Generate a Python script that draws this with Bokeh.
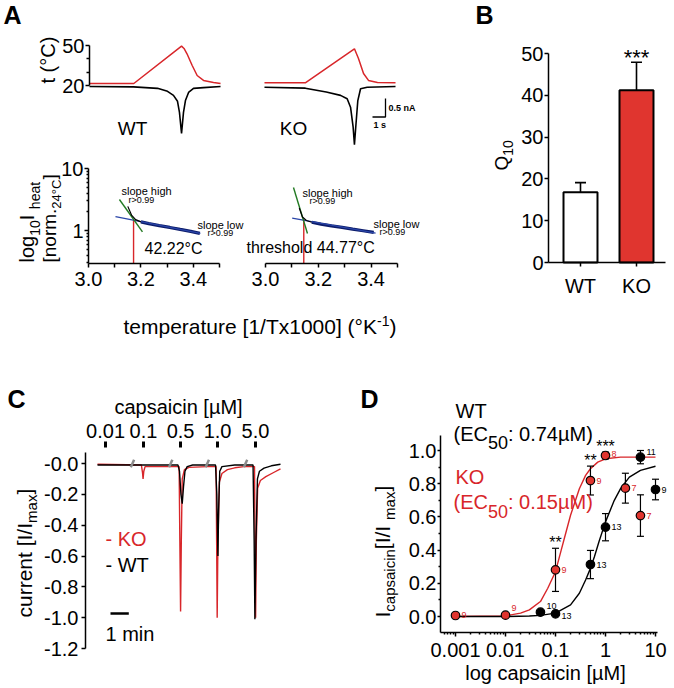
import math
from bokeh.plotting import figure
from bokeh.models import (Range1d, LinearAxis, LogAxis, LogScale, FixedTicker, Label,
                          CustomJSTickFormatter)
from bokeh.embed import file_html
from bokeh.resources import INLINE
from bokeh.core.properties import value

# ============================ DATA ============================
# --- Panel A (top): example heat-ramp recordings: time (s), temperature (degC), current (nA)
wt_temp_t = [0.0, 3.41, 7.08, 7.27, 7.50, 7.90, 8.28, 8.77, 9.54, 10.08]
wt_temp = [21.5, 21.5, 49.5, 47.8, 43.8, 35.0, 27.5, 23.8, 22.3, 21.5]
wt_cur_t = [0.0, 3.38, 5.23, 6.00, 6.46, 6.77, 6.92, 7.08, 7.23, 7.38, 7.62, 8.00, 8.77, 10.08]
wt_cur = [0.0, -0.01, -0.05, -0.13, -0.24, -0.40, -0.70, -1.27, -0.70, -0.38, -0.16, -0.05, -0.03, 0.0]
ko_temp_t = [13.46, 16.60, 20.38, 20.69, 21.08, 21.46, 22.15, 23.54]
ko_temp = [22.0, 22.0, 47.5, 40.3, 29.0, 23.8, 22.3, 22.0]
ko_cur_t = [13.46, 16.60, 18.21, 19.31, 19.82, 20.08, 20.28, 20.38, 20.48, 20.64, 20.85, 21.36, 23.54]
ko_cur = [-0.02, -0.045, -0.15, -0.24, -0.33, -0.56, -1.10, -1.57, -1.10, -0.38, -0.06, -0.02, 0.0]

# --- Panel A (bottom): Arrhenius plots, x = 1/T x 1000, y = normalised I_heat (log)
arr_wt_steep_x = [3.150, 3.165, 3.180, 3.200]
arr_wt_steep_y = [2.45, 1.75, 1.50, 1.38]
arr_wt_flat_x = [3.200, 3.230, 3.270, 3.310, 3.350, 3.390, 3.425]
arr_wt_flat_y = [1.38, 1.29, 1.20, 1.12, 1.04, 0.97, 0.90]
arr_wt_high_x = [3.118, 3.206]
arr_wt_high_y = [3.16, 0.95]
arr_wt_low_x = [3.103, 3.427]
arr_wt_low_y = [1.68, 0.895]
arr_wt_thr_x = 3.172
arr_wt_thr_y = 1.50
arr_ko_steep_x = [3.128, 3.140, 3.155, 3.175]
arr_ko_steep_y = [2.30, 1.65, 1.45, 1.36]
arr_ko_flat_x = [3.175, 3.210, 3.250, 3.290, 3.330, 3.370, 3.410]
arr_ko_flat_y = [1.36, 1.27, 1.19, 1.12, 1.05, 0.99, 0.93]
arr_ko_high_x = [3.106, 3.159]
arr_ko_high_y = [4.94, 0.895]
arr_ko_low_x = [3.101, 3.417]
arr_ko_low_y = [1.58, 0.905]
arr_ko_thr_x = 3.145
arr_ko_thr_y = 1.49
arr_ymin = 0.294

# --- Panel B: Q10
genotypes = ["WT", "KO"]
q10_mean = [16.8, 41.2]
q10_sem = [2.3, 6.7]

# --- Panel C: capsaicin applications, time (min), normalised current
cap_conc_labels = ["0.01", "0.1", "0.5", "1.0", "5.0"]
cap_app_t = [0.44, 2.51, 4.54, 6.56, 8.63]
cap_break_t = [1.91, 4.00, 6.00, 8.09]
c_wt_t = [0.0, 2.45, 4.40, 4.48, 4.56, 4.63, 4.70, 4.78, 4.90, 5.20, 6.45, 6.52, 6.58, 6.62,
          6.68, 6.80, 7.50, 8.50, 8.56, 8.60, 8.66, 8.74, 8.85, 9.10, 9.50, 10.0]
c_wt_i = [-0.01, -0.01, -0.01, -0.05, -0.20, -0.26, -0.15, -0.05, -0.02, -0.01, -0.01, -0.20,
          -0.60, -0.30, -0.05, -0.02, -0.01, -0.01, -0.50, -1.01, -0.50, -0.10, -0.05, -0.03,
          -0.015, -0.005]
c_ko_t = [0.0, 2.40, 2.46, 2.49, 2.53, 2.60, 4.46, 4.50, 4.54, 4.58, 4.63, 4.75, 5.00, 6.00,
          6.48, 6.51, 6.54, 6.58, 6.66, 6.80, 7.10, 7.50, 8.00, 8.58, 8.61, 8.64, 8.68, 8.75,
          8.90, 9.20, 9.60, 10.0]
c_ko_i = [-0.005, -0.01, -0.06, -0.10, -0.05, -0.02, -0.02, -0.50, -0.96, -0.50, -0.10, -0.04,
          -0.025, -0.02, -0.02, -0.50, -1.00, -0.50, -0.12, -0.065, -0.04, -0.028, -0.02, -0.02,
          -0.50, -1.00, -0.50, -0.16, -0.11, -0.085, -0.06, -0.035]

# --- Panel D: dose response
d_wt_x = [0.05, 0.1, 0.5, 1.0, 5.0, 10.0]
d_wt_y = [0.026, 0.016, 0.313, 0.538, 0.96, 0.765]
d_wt_err = [0.0, 0.0, 0.085, 0.082, 0.04, 0.062]
d_wt_n = [10, 13, 13, 13, 11, 9]
d_ko_x = [0.001, 0.01, 0.1, 0.5, 1.0, 2.5, 5.0]
d_ko_y = [0.006, 0.008, 0.281, 0.819, 0.97, 0.773, 0.608]
d_ko_err = [0.0, 0.0, 0.13, 0.087, 0.02, 0.09, 0.125]
d_ko_n = [9, 9, 9, 9, 8, 7, 7]
wt_fit_x = [0.001, 0.01, 0.03, 0.05, 0.1, 0.2, 0.3, 0.4, 0.5, 0.6, 0.74, 1.0, 1.5, 2.0, 3.0, 5.0, 10.0]
wt_fit_y = [0.0, 0.0, 0.003, 0.007, 0.02, 0.07, 0.14, 0.22, 0.29, 0.36, 0.45, 0.57, 0.70, 0.77, 0.84, 0.88, 0.905]
ko_fit_x = [0.001, 0.01, 0.02, 0.03, 0.05, 0.07, 0.1, 0.13, 0.15, 0.2, 0.3, 0.4, 0.5, 0.7, 1.0, 2.0, 5.0, 10.0]
ko_fit_y = [0.0, 0.004, 0.02, 0.04, 0.09, 0.17, 0.27, 0.40, 0.47, 0.61, 0.77, 0.85, 0.89, 0.93, 0.95, 0.96, 0.96, 0.96]
sig_x = [0.1, 0.5, 1.0]
sig_text = ["**", "**", "***"]

# ============================ LAYOUT ============================
W, H, OFF = 674, 688, 0
FONT = "Liberation Sans"
RED = "#d8262a"
KO_FILL = "#e0352f"
GREEN = "#237a23"
BLUE = "#2a45a8"
NAVY = "#0c1c6a"

# pixel anchors (reference image coords) -> data value, per panel range
XMAP = {"at": (89, 0.0, 102, 1.0, False), "al": (88, 3.0, 219, 3.5, False),
        "ar": (265, 3.0, 397, 3.5, False), "b": (580, 1.0, 636, 2.0, False),
        "c": (97, 0.0, 115.3, 1.0, False), "d": (455, 0.001, 655, 10.0, True)}
YMAP = {"atT": (85, 20.0, 45, 50.0, False), "atI": (86, 0.0, 123, -1.0, False),
        "aly": (230, 1.0, 168, 10.0, True), "b": (262, 0.0, 53, 50.0, False),
        "c": (463, 0.0, 648, -1.2, False), "d": (616, 0.0, 450, 1.0, False)}

# screen offsets (px) of the n-labels next to each point in panel D
n_dy_wt = [-6, 2, 0, 0, -5, 0]
n_dy_ko = [-1, -7, 0, 0, -1, 0, 0]


def to_val(m, pix):
    p0, v0, p1, v1, log = m
    if log:
        v0, v1 = math.log10(v0), math.log10(v1)
    v = v0 + (pix - p0) * (v1 - v0) / (p1 - p0)
    return 10 ** v if log else v


def vx(name, pix):
    return to_val(XMAP[name], pix)


def vy(name, pix):
    return to_val(YMAP[name], pix)


p = figure(width=W, height=H, x_range=Range1d(0, W), y_range=Range1d(H, 0),
           x_axis_type=None, y_axis_type=None, toolbar_location=None,
           output_backend="svg", min_border=0, outline_line_color=None)
p.min_border_left = p.min_border_right = p.min_border_top = p.min_border_bottom = 0
p.background_fill_color = "white"
p.border_fill_color = "white"
p.extra_x_ranges = {k: Range1d(vx(k, OFF), vx(k, OFF + W)) for k in XMAP}
p.extra_y_ranges = {k: Range1d(vy(k, OFF + H), vy(k, OFF)) for k in YMAP}
p.extra_x_scales = {"d": LogScale()}
p.extra_y_scales = {"aly": LogScale()}

AW = {' ': 278, '(': 333, ')': 333, '[': 278, ']': 278, '.': 278, ':': 278, '/': 278,
      '°': 400, 'µ': 576, '-': 333, '>': 584, '*': 389,
      'a': 556, 'b': 556, 'c': 500, 'd': 556, 'e': 556, 'f': 278, 'g': 556, 'h': 556,
      'i': 222, 'j': 222, 'k': 500, 'l': 222, 'm': 833, 'n': 556, 'o': 556, 'p': 556,
      'q': 556, 'r': 333, 's': 500, 't': 278, 'u': 556, 'v': 500, 'w': 722, 'x': 500,
      'y': 500, 'z': 500, 'A': 667, 'C': 722, 'D': 722, 'E': 667, 'I': 278, 'K': 667,
      'M': 833, 'O': 778, 'Q': 778, 'T': 611, 'W': 944}
MID = 0.35  # cap-centre height above the baseline, in em


def tw(s, size):
    return sum(AW.get(ch, 556) for ch in s) / 1000.0 * size


def lab(x, y, text, size=20, color="black", align="left", bold=False, angle=0.0):
    """(x, y) is the baseline anchor; Bokeh gets the cap-centre with baseline 'middle'."""
    if angle == 0.0:
        y = y - MID * size
    else:
        x = x - MID * size
    p.add_layout(Label(x=x - OFF, y=y - OFF, text=text, text_font=FONT,
                       text_font_size=f"{size}px", text_color=color, text_align=align,
                       text_baseline="middle", angle=angle,
                       text_font_style="bold" if bold else "normal"))


def runs_h(x, y, runs, color="black"):
    for text, size, dy in runs:
        lab(x, y + dy, text, size, color)
        x += tw(text, size)


def runs_v(x, y, runs, color="black"):
    for text, size, dx in runs:
        lab(x + dx, y, text, size, color, angle=math.pi / 2)
        y -= tw(text, size)


def add_axis(cls, side, xn, yn, loc, bounds, ticks, minor=(), fmt=None, size=20,
             tick_out=4, minor_out=0, standoff=2, lw=1.5, line=True):
    ax = cls(x_range_name=xn, y_range_name=yn, fixed_location=loc,
             ticker=FixedTicker(ticks=list(ticks), minor_ticks=list(minor)))
    if bounds is not None:
        ax.bounds = bounds
    ax.axis_line_width = lw
    ax.axis_line_color = "black" if line else None
    ax.major_tick_line_width = lw
    ax.minor_tick_line_width = lw
    ax.major_tick_out = tick_out
    ax.major_tick_in = 0
    ax.minor_tick_out = minor_out
    ax.minor_tick_in = 0
    ax.major_label_text_font = FONT
    ax.major_label_text_font_size = f"{size}px"
    ax.major_label_text_color = "black"
    ax.major_label_standoff = standoff
    if fmt is not None:
        ax.formatter = fmt
    p.add_layout(ax, side)
    return ax


fmt_str = CustomJSTickFormatter(code="return String(tick);")
fmt_1 = CustomJSTickFormatter(code="return tick.toFixed(1);")

# ============================ PANEL A top ============================
ka_t = dict(x_range_name="at", y_range_name="atT")
ka_i = dict(x_range_name="at", y_range_name="atI")
p.line(wt_temp_t, wt_temp, line_color=RED, line_width=1.5, **ka_t)
p.line(ko_temp_t, ko_temp, line_color=RED, line_width=1.5, **ka_t)
p.line(wt_cur_t, wt_cur, line_color="black", line_width=1.6, **ka_i)
p.line(ko_cur_t, ko_cur, line_color="black", line_width=1.6, **ka_i)
# scale bars: 0.5 nA, 1 s
sb_t = vx("at", 385)
sb_i = vy("atI", 98)
p.line([sb_t - 1.0, sb_t, sb_t], [sb_i - 0.5, sb_i - 0.5, sb_i], line_color="black",
       line_width=1.3, **ka_i)
add_axis(LinearAxis, "left", "at", "atT", 0.0, (20, 50), [20, 50], [30, 40],
         fmt=fmt_str, tick_out=4, minor_out=3, standoff=1)
lab(3, 23, "A", 25, bold=True)
lab(54, 83, "t (°C)", 20, angle=math.pi / 2)
lab(132, 135, "WT", 19, align="center")
lab(293, 135, "KO", 19, align="center")
lab(388, 111, "0.5 nA", 9, bold=True)
lab(373, 128, "1 s", 9, bold=True)

# ============================ PANEL A bottom ============================
for xn, stx, sty, flx, fly, hx, hy, lx, ly, thx, thy in [
        ("al", arr_wt_steep_x, arr_wt_steep_y, arr_wt_flat_x, arr_wt_flat_y, arr_wt_high_x,
         arr_wt_high_y, arr_wt_low_x, arr_wt_low_y, arr_wt_thr_x, arr_wt_thr_y),
        ("ar", arr_ko_steep_x, arr_ko_steep_y, arr_ko_flat_x, arr_ko_flat_y, arr_ko_high_x,
         arr_ko_high_y, arr_ko_low_x, arr_ko_low_y, arr_ko_thr_x, arr_ko_thr_y)]:
    kk = dict(x_range_name=xn, y_range_name="aly")
    p.segment(x0=[thx], y0=[arr_ymin], x1=[thx], y1=[thy], line_color=RED, line_width=1.4, **kk)
    p.line(flx, fly, line_color=NAVY, line_width=3.2, **kk)
    p.line(lx, ly, line_color=BLUE, line_width=1.3, **kk)
    p.line(hx, hy, line_color=GREEN, line_width=1.4, **kk)
    p.line(stx, sty, line_color="black", line_width=1.2, **kk)
    add_axis(LinearAxis, "below", xn, "aly", arr_ymin, (3.0, 3.5), [3.0, 3.2, 3.4],
             [3.1, 3.3, 3.5], fmt=fmt_1, tick_out=4, minor_out=4, standoff=5)
add_axis(LogAxis, "left", "al", "aly", 3.0, (arr_ymin, 10), [1, 10],
         [0.3, 0.4, 0.5, 0.6, 0.7, 0.8, 0.9, 2, 3, 4, 5, 6, 7, 8, 9], fmt=fmt_str,
         tick_out=4, minor_out=2, standoff=1)
lab(121, 194, "slope high", 11)
lab(128, 203, "r>0.99", 9)
lab(197, 228, "slope low", 11)
lab(207, 236, "r>0.99", 9)
lab(144, 254, "42.22°C", 16)
lab(302, 196, "slope high", 11)
lab(309, 204, "r>0.99", 9)
lab(373, 227, "slope low", 11)
lab(379, 235, "r>0.99", 9)
lab(246, 253, "threshold 44.77°C", 16)
runs_v(33, 262, [("log", 20, 0), ("10", 14, 6), (" I", 20, 0), ("heat", 14, 6)])
runs_v(56, 262, [("[norm.", 19, 0), ("24°C", 13, 5), ("]", 19, 0)])
runs_h(123, 333, [("temperature [1/Tx1000] (°K", 21, 0), ("-1", 14, -8), (")", 21, 0)])

# ============================ PANEL B ============================
kb = dict(x_range_name="b", y_range_name="b")
bx = [i + 1 for i in range(len(genotypes))]
btop = [m + e for m, e in zip(q10_mean, q10_sem)]
p.segment(x0=bx, y0=q10_mean, x1=bx, y1=btop, line_color="black", line_width=1.6, **kb)
p.scatter(x=bx, y=btop, marker="dash", size=11, line_color="black", line_width=1.6, **kb)
p.vbar(x=bx, top=q10_mean, width=0.607, fill_color=["white", KO_FILL], line_color="black",
       line_width=2, **kb)
add_axis(LinearAxis, "left", "b", "b", vx("b", 548), (0, 50), [0, 10, 20, 30, 40, 50],
         fmt=fmt_str, tick_out=4, standoff=1)
add_axis(LinearAxis, "below", "b", "b", 0, (vx("b", 548), vx("b", 665)), bx,
         fmt=CustomJSTickFormatter(args=dict(names=genotypes),
                                   code="return names[Math.round(tick) - 1];"),
         tick_out=4, standoff=8)
lab(475, 23, "B", 25, bold=True)
runs_v(508, 170, [("Q", 19, 0), ("10", 14, 4)])
p.text(x=[bx[1]], y=[btop[1]], text=["***"], text_font=value(FONT), text_font_size=value("22px"),
       text_align="center", text_baseline="middle", y_offset=-5, **kb)

# ============================ PANEL C ============================
kc = dict(x_range_name="c", y_range_name="c")
p.line(c_ko_t, c_ko_i, line_color=RED, line_width=1.4, **kc)
p.line(c_wt_t, c_wt_i, line_color="black", line_width=1.4, **kc)
bdx, bdy = 0.09, 0.024
p.segment(x0=[b - bdx for b in cap_break_t], y0=[-bdy] * len(cap_break_t),
          x1=[b + bdx for b in cap_break_t], y1=[bdy] * len(cap_break_t),
          line_color="#8c8c8c", line_width=2.5, **kc)
add_axis(LinearAxis, "left", "c", "c", vx("c", 85), (-1.2, vy("c", 452)),
         [-1.2, -1.0, -0.8, -0.6, -0.4, -0.2, 0.0],
         fmt=CustomJSTickFormatter(code="return tick === 0 ? '-0.0' : tick.toFixed(1);"),
         tick_out=4, standoff=3)
add_axis(LinearAxis, "above", "c", "c", vy("c", 447), None, cap_app_t,
         fmt=CustomJSTickFormatter(args=dict(t=cap_app_t, names=cap_conc_labels), code="""
            let b = 0;
            for (let i = 0; i < t.length; i++) {
              if (Math.abs(t[i] - tick) < Math.abs(t[b] - tick)) b = i;
            }
            return names[b];"""),
         tick_out=6, standoff=4, lw=3, line=False)
# 1 min scale bar
sbx = vx("c", 110)
sby = vy("c", 613)
p.line([sbx, sbx + 1.0], [sby, sby], line_color="black", line_width=2.5, **kc)
lab(7, 407, "C", 25, bold=True)
lab(178, 413, "capsaicin [µM]", 20, align="center")
lab(105, 545, "- KO", 20, color=RED)
lab(105, 571, "- WT", 20)
lab(105, 640, "1 min", 20)
runs_v(31, 617, [("current [I/I", 21, 0), ("max", 15, 5), ("]", 21, 0)])

# ============================ PANEL D ============================
kd = dict(x_range_name="d", y_range_name="d")
p.line(ko_fit_x, ko_fit_y, line_color=RED, line_width=1.4, **kd)
p.line(wt_fit_x, wt_fit_y, line_color="black", line_width=1.4, **kd)
for xs, ys, es, fill, ns, ncol, ndy in [
        (d_wt_x, d_wt_y, d_wt_err, "black", d_wt_n, "black", n_dy_wt),
        (d_ko_x, d_ko_y, d_ko_err, KO_FILL, d_ko_n, RED, n_dy_ko)]:
    ex = [x for x, e in zip(xs, es) if e > 0]
    lo = [y - e for y, e in zip(ys, es) if e > 0]
    hi = [y + e for y, e in zip(ys, es) if e > 0]
    p.segment(x0=ex, y0=lo, x1=ex, y1=hi, line_color="black", line_width=1.2, **kd)
    p.scatter(x=ex + ex, y=lo + hi, marker="dash", size=7, line_color="black",
              line_width=1.2, **kd)
    p.scatter(x=xs, y=ys, marker="circle", size=8.5, fill_color=fill, line_color="black",
              line_width=1.2, **kd)
    p.text(x=xs, y=ys, text=[str(n) for n in ns], text_font=value(FONT),
           text_font_size=value("9px"), text_color=ncol, text_align="left",
           text_baseline="middle", x_offset=6, y_offset=ndy, **kd)
sig_y = []
for sx in sig_x:
    tops = [y + e for x, y, e in zip(d_wt_x + d_ko_x, d_wt_y + d_ko_y, d_wt_err + d_ko_err)
            if x == sx]
    sig_y.append(max(tops))
p.text(x=sig_x, y=sig_y, text=sig_text, text_font=value(FONT), text_font_size=value("16px"),
       text_align="center", text_baseline="middle", y_offset=-6, **kd)
dminor = [m * 10.0 ** e for e in (-4, -3, -2, -1, 0) for m in range(2, 10)
          if vx("d", 440) < m * 10.0 ** e < 10]
add_axis(LogAxis, "below", "d", "d", vy("d", 632), (vx("d", 440), vx("d", 657)),
         [0.001, 0.01, 0.1, 1, 10], dminor, fmt=fmt_str, tick_out=4, minor_out=2, standoff=6)
add_axis(LinearAxis, "left", "d", "d", vx("d", 440), (vy("d", 632), vy("d", 435)),
         [0.0, 0.2, 0.4, 0.6, 0.8, 1.0], [0.1, 0.3, 0.5, 0.7, 0.9], fmt=fmt_1,
         tick_out=3, minor_out=2, standoff=1)
lab(360, 407, "D", 25, bold=True)
lab(455, 417, "WT", 20)
runs_h(453, 440, [("(EC", 20, 0), ("50", 18, 8), (": 0.74µM)", 20, 0)])
lab(455, 483, "KO", 20, color=RED)
runs_h(453, 508, [("(EC", 20, 0), ("50", 18, 9), (": 0.15µM)", 20, 0)], color=RED)
runs_v(389, 617, [("I", 21, 0), ("capsaicin", 15, 5), (" [I/I", 21, 0), ("max", 15, 5),
                  ("]", 21, 0)])
lab(545, 679, "log capsaicin [µM]", 20, align="center")

open("out.html", "w").write(file_html(p, INLINE))
